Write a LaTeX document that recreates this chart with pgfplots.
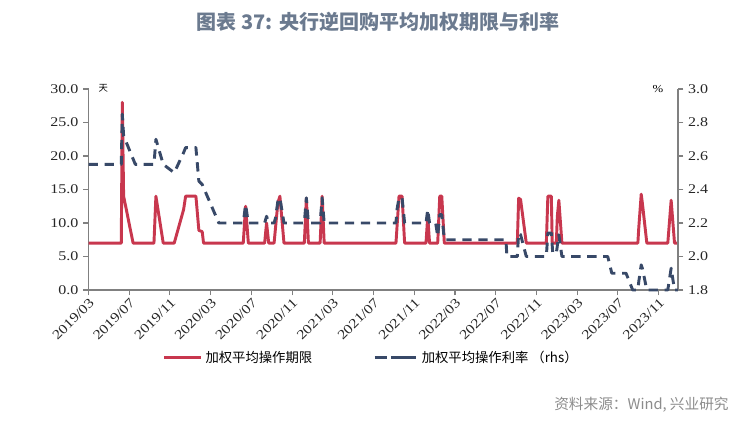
\documentclass[border=0pt]{standalone}
\usepackage{fontspec}
\usepackage{pgfplots}
\usepackage{pgfplotstable}
\pgfplotsset{compat=1.18}
\setmainfont{Liberation Serif}
\newfontfamily\tickfont[FakeStretch=1.2]{Liberation Serif}
\newfontfamily\cjk{Noto Sans CJK SC}
\definecolor{myred}{RGB}{200,55,78}
\definecolor{myblue}{RGB}{56,73,104}
\definecolor{axgray}{RGB}{128,128,128}
\definecolor{titlec}{RGB}{107,122,143}
\definecolor{srcc}{RGB}{140,140,140}

\pgfplotstableread{
m d
0 7
3.22 7
3.32 28
3.45 14
4.38 7
6.43 7
6.62 14
7.34 7
8.42 7
9.34 12
9.54 14
10.55 14
10.84 8.9
11.17 8.7
11.3 7
15.2 7
15.43 12.5
15.7 7
17.3 7
17.49 10
17.7 7
18.23 7
18.37 9.3
18.6 13
18.8 14
19.2 7
21.2 7
21.4 13.7
21.6 7
22.75 7
22.95 14
23.15 7
30.2 7
30.5 14
30.8 14
31.05 7
33.15 7
33.32 11
33.5 7
34.3 7
34.5 14
34.7 14
34.95 7
42.12 7
42.25 13.7
42.44 13.5
43.0 7
44.97 7
45.12 14
45.46 14
45.55 7
45.95 7
46.05 11
46.2 13.4
46.5 7
53.96 7
54.05 9.3
54.29 14.3
54.4 13
54.84 7
56.9 7
57.23 13.4
57.56 7
57.9 7
}\daystable

\pgfplotstableread{
m r
0 2.55
3.22 2.55
3.32 2.85
3.45 2.72
4.6 2.55
6.43 2.55
6.62 2.70
7.34 2.55
8.42 2.50
9.34 2.62
9.54 2.65
10.55 2.65
10.84 2.45
11.17 2.43
12.8 2.20
15.2 2.20
15.43 2.31
15.7 2.20
17.3 2.20
17.49 2.24
17.7 2.20
18.23 2.20
18.37 2.23
18.6 2.33
18.8 2.35
19.2 2.20
21.2 2.20
21.4 2.35
21.6 2.20
22.75 2.20
22.95 2.35
23.15 2.20
30.2 2.20
30.3 2.28
30.5 2.35
30.8 2.35
31.05 2.20
33.15 2.20
33.32 2.28
33.5 2.20
34.1 2.20
34.3 2.12
34.5 2.25
34.7 2.25
34.95 2.10
41.0 2.10
41.1 2.00
42.12 2.00
42.25 2.14
42.44 2.13
43.0 2.00
44.97 2.00
45.12 2.14
45.46 2.14
45.6 2.02
45.95 2.02
46.2 2.13
46.5 2.00
51.0 2.00
51.4 1.90
52.8 1.90
53.45 1.80
53.96 1.80
54.05 1.85
54.29 1.95
54.4 1.93
54.84 1.80
56.9 1.80
57.23 1.93
57.56 1.80
57.9 1.80
}\ratetable

\pgfplotsset{
  common/.style={
    at={(66.375pt,99.75pt)}, anchor=south west, scale only axis,
    width=442.1pt, height=150.75pt,
    xmin=0, xmax=57.9,
    clip=false,
    tick align=outside, major tick length=4pt,
    axis line style={axgray, line width=1.1pt},
    tick style={axgray, line width=0.8pt},
    ticklabel style={font=\tickfont\fontsize{10}{11}\selectfont, text=black!85},
  },
  redleg/.style={legend image code/.code={\draw[##1] (0pt,0pt) -- (28pt,0pt);}},
  blueleg/.style={legend image code/.code={\draw[##1, dash pattern=on 9pt off 6pt] (0pt,0pt) -- (24pt,0pt); \path (0pt,0pt) -- (32pt,0pt);}},
}

\begin{document}
\begin{tikzpicture}
\useasboundingbox (0pt,0pt) rectangle (565.5pt,317.25pt);
\begin{axis}[common,
  ymin=0, ymax=30,
  axis x line*=bottom, axis y line*=left,
  xtick={0,4,...,56},
  xticklabels={2019/03,2019/07,2019/11,2020/03,2020/07,2020/11,2021/03,2021/07,2021/11,2022/03,2022/07,2022/11,2023/03,2023/07,2023/11},
  x tick label style={rotate=45, anchor=north east, inner sep=1pt, font=\tickfont\fontsize{10}{11}\selectfont},
  ytick={0,5,...,30},
  yticklabel={\pgfmathprintnumber[fixed,fixed zerofill,precision=1,assume math mode=true]{\tick}},
]
\addplot[myred, line width=2.2pt, line join=round] table[x=m, y=d] {\daystable};
\end{axis}
\begin{axis}[common,
  ymin=1.8, ymax=3.0,
  axis x line=none, axis y line*=right,
  ytick={1.8,2.0,2.2,2.4,2.6,2.8,3.0},
  yticklabel={\pgfmathprintnumber[fixed,fixed zerofill,precision=1,assume math mode=true]{\tick}},
  legend style={at={(0.48,-0.338)}, anchor=center, draw=none, fill=none,
    legend columns=2, font=\cjk\fontsize{10}{11}\selectfont,
    /tikz/every even column/.append style={column sep=44pt}},
  legend cell align=left,
]
\addlegendimage{myred, line width=2.2pt, redleg}
\addlegendentry{加权平均操作期限}
\addplot[myblue, line width=2.2pt, dash pattern=on 7pt off 5pt, line join=round, blueleg] table[x=m, y=r] {\ratetable};
\addlegendentry{加权平均操作利率\ （rhs）}
\end{axis}
\node[font=\cjk\bfseries\fontsize{15}{16}\selectfont, text=titlec] at (283.5pt,300.75pt) {图表 37: 央行逆回购平均加权期限与利率};
\node[anchor=east, font=\cjk\fontsize{11}{12}\selectfont, text=srcc] at (550pt,13.5pt) {资料来源：Wind, 兴业研究};
\node[anchor=west, font=\cjk\fontsize{7}{8}\selectfont] at (70.5pt,251.25pt) {天};
\node[anchor=east, font=\tickfont\fontsize{8}{9}\selectfont] at (501pt,250.5pt) {\%};
\end{tikzpicture}
\end{document}
